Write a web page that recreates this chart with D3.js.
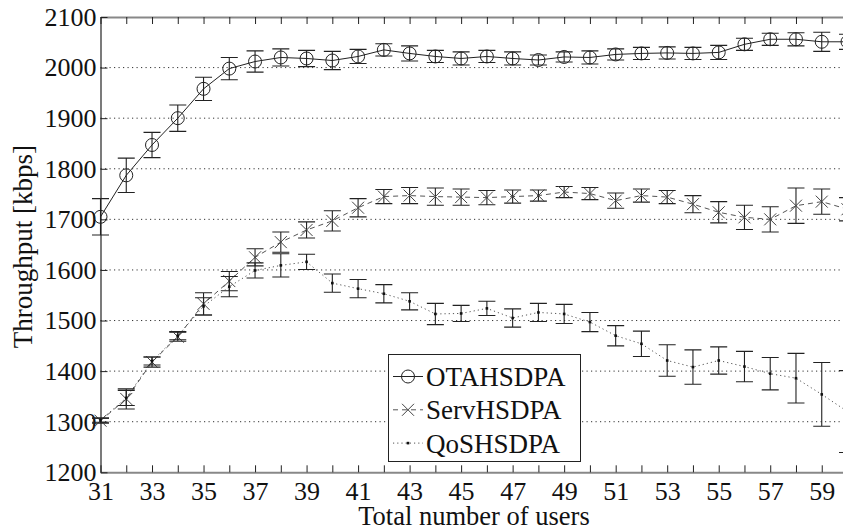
<!DOCTYPE html>
<html>
<head>
<meta charset="utf-8">
<script src="https://cdn.jsdelivr.net/npm/d3@7"></script>
<style>
    body { margin: 0; background: #fff; }
    svg { display: block; font-family: "Liberation Serif", "Times New Roman", serif; }
</style>
</head>
<body>
<svg id="chart"></svg>
<script>

// x values: total number of users
const users = [31, 32, 33, 34, 35, 36, 37, 38, 39, 40, 41, 42, 43, 44, 45,
               46, 47, 48, 49, 50, 51, 52, 53, 54, 55, 56, 57, 58, 59, 60];

// OTAHSDPA throughput (kbps) and error half-widths
const otaMean = [1705, 1787, 1847, 1900, 1958, 1998, 2012, 2020, 2018, 2014, 2022, 2035, 2028, 2022, 2018,
                 2022, 2018, 2015, 2021, 2020, 2026, 2028, 2029, 2028, 2030, 2046, 2056, 2056, 2051, 2051];
const otaErr  = [36, 34, 25, 26, 23, 22, 21, 17, 16, 18, 14, 12, 15, 12, 13,
                 12, 13, 10, 10, 13, 11, 12, 12, 12, 14, 12, 12, 13, 19, 15];

// ServHSDPA
const servMean = [1302, 1345, 1418, 1468, 1533, 1578, 1625, 1655, 1679, 1697, 1723, 1745, 1747, 1745, 1744,
                  1743, 1745, 1747, 1754, 1751, 1737, 1747, 1744, 1730, 1714, 1704, 1700, 1727, 1735, 1720];
const servErr  = [5, 20, 10, 9, 22, 19, 17, 20, 16, 20, 18, 14, 16, 17, 16,
                  14, 13, 11, 11, 12, 15, 13, 13, 17, 21, 24, 25, 35, 25, 23];

// QoSHSDPA
const qosMean = [1303, 1347, 1420, 1470, 1528, 1567, 1599, 1609, 1616, 1574, 1563, 1553, 1538, 1513, 1514,
                 1524, 1505, 1516, 1513, 1497, 1470, 1454, 1421, 1408, 1421, 1409, 1395, 1386, 1354, 1320];
const qosErr  = [4, 15, 8, 8, 17, 20, 15, 23, 15, 18, 18, 18, 17, 21, 16,
                 14, 18, 18, 19, 19, 20, 25, 31, 34, 27, 30, 32, 49, 63, 81];

const yTicks = [1200, 1300, 1400, 1500, 1600, 1700, 1800, 1900, 2000, 2100];
const xTickLabels = [31, 33, 35, 37, 39, 41, 43, 45, 47, 49, 51, 53, 55, 57, 59];
const seriesNames = ['OTAHSDPA', 'ServHSDPA', 'QoSHSDPA'];

class ErrorBarChart {
    constructor(config_, data_) {
        this.config = {
            svgElement: config_.svgElement,
            width: config_.width,
            height: config_.height,
            margin: config_.margin
        };
        this.data = data_;
        this.initVis();
    }

    initVis() {
        const vis = this;

        vis.width = vis.config.width - vis.config.margin.left - vis.config.margin.right;
        vis.height = vis.config.height - vis.config.margin.top - vis.config.margin.bottom;

        vis.xScale = d3.scaleLinear()
            .domain([users[0], users[users.length - 1]])
            .range([0, vis.width]);

        vis.yScale = d3.scaleLinear()
            .domain([yTicks[0], yTicks[yTicks.length - 1]])
            .range([vis.height, 0]);

        // matlab style: ticks point inwards
        vis.xAxis = d3.axisBottom(vis.xScale)
            .tickValues(users)
            .tickSizeInner(-7)
            .tickSizeOuter(0)
            .tickPadding(9.5)
            .tickFormat(d => xTickLabels.includes(d) ? d : '');

        vis.xAxisTop = d3.axisTop(vis.xScale)
            .tickValues(users)
            .tickSizeInner(-7)
            .tickSizeOuter(0)
            .tickFormat('');

        vis.yAxis = d3.axisLeft(vis.yScale)
            .tickValues(yTicks)
            .tickSizeInner(-7)
            .tickSizeOuter(0)
            .tickPadding(4)
            .tickFormat(d3.format('d'));

        vis.svg = d3.select(vis.config.svgElement)
            .attr('width', vis.config.width)
            .attr('height', vis.config.height);

        vis.chart = vis.svg.append('g')
            .attr('transform', `translate(${vis.config.margin.left},${vis.config.margin.top})`);

        vis.gridG = vis.chart.append('g').attr('class', 'grid');

        vis.xAxisG = vis.chart.append('g')
            .attr('class', 'axis x-axis')
            .attr('transform', `translate(0,${vis.height})`);

        vis.xAxisTopG = vis.chart.append('g')
            .attr('class', 'axis x-axis-top');

        vis.yAxisG = vis.chart.append('g')
            .attr('class', 'axis y-axis');

        vis.svg.append('text')
            .attr('x', vis.config.margin.left + vis.width / 2)
            .attr('y', 525)
            .attr('text-anchor', 'middle')
            .attr('font-size', 26.5)
            .attr('fill', '#111')
            .text('Total number of users');

        vis.svg.append('text')
            .attr('transform', `translate(32,${vis.config.margin.top + vis.height / 2 + 2}) rotate(-90)`)
            .attr('text-anchor', 'middle')
            .attr('font-size', 27)
            .attr('fill', '#111')
            .text('Throughput [kbps]');

        vis.updateVis();
    }

    updateVis() {
        const vis = this;

        vis.series = vis.data.map(s => ({
            name: s.name,
            style: s.style,
            points: users.map((u, i) => ({ x: u, y: s.mean[i], e: s.err[i] }))
        }));

        vis.line = d3.line()
            .x(d => vis.xScale(d.x))
            .y(d => vis.yScale(d.y));

        vis.renderVis();
    }

    drawMarker(g, type, x, y) {
        if (type === 'circle') {
            g.append('circle')
                .attr('cx', x).attr('cy', y).attr('r', 6.5)
                .attr('fill', 'none').attr('stroke', '#222').attr('stroke-width', 1);
        } else if (type === 'x') {
            g.append('path')
                .attr('d', `M${x - 6},${y - 6}L${x + 6},${y + 6}M${x - 6},${y + 6}L${x + 6},${y - 6}`)
                .attr('stroke', '#444').attr('stroke-width', 1);
        } else {
            g.append('rect')
                .attr('x', x - 1.3).attr('y', y - 1.3)
                .attr('width', 2.6).attr('height', 2.6)
                .attr('fill', '#111');
        }
    }

    renderVis() {
        const vis = this;

        // dotted horizontal grid
        vis.gridG.selectAll('line')
            .data(yTicks.slice(1, -1))
            .join('line')
            .attr('x1', 0)
            .attr('x2', vis.width)
            .attr('y1', d => vis.yScale(d))
            .attr('y2', d => vis.yScale(d))
            .attr('stroke', '#333')
            .attr('stroke-width', 1)
            .attr('stroke-dasharray', '1.2,3.3');

        vis.xAxisG.call(vis.xAxis)
            .call(g => g.select('.domain').attr('stroke', '#888').attr('stroke-width', 2));
        vis.xAxisTopG.call(vis.xAxisTop)
            .call(g => g.select('.domain').attr('stroke', '#888').attr('stroke-width', 2));
        vis.yAxisG.call(vis.yAxis)
            .call(g => g.select('.domain').attr('stroke', '#222').attr('stroke-width', 1.2));

        vis.chart.selectAll('.axis .tick line').attr('stroke', '#222').attr('stroke-width', 1);
        vis.chart.selectAll('.axis text')
            .attr('font-size', 26)
            .attr('font-family', '"Liberation Serif", "Times New Roman", serif')
            .attr('fill', '#111');

        const seriesG = vis.chart.selectAll('.series')
            .data(vis.series)
            .join('g')
            .attr('class', d => `series s-${d.name}`);

        seriesG.append('path')
            .attr('d', d => vis.line(d.points))
            .attr('fill', 'none')
            .attr('stroke', d => d.style.color)
            .attr('stroke-width', 1)
            .attr('stroke-dasharray', d => d.style.dash);

        // error bars
        seriesG.each(function (s) {
            const g = d3.select(this);
            s.points.forEach(p => {
                const x = vis.xScale(p.x);
                const y0 = vis.yScale(p.y - p.e);
                const y1 = vis.yScale(p.y + p.e);
                g.append('path')
                    .attr('d', `M${x},${y0}L${x},${y1}M${x - 8.5},${y0}L${x + 8.5},${y0}M${x - 8.5},${y1}L${x + 8.5},${y1}`)
                    .attr('fill', 'none')
                    .attr('stroke', '#222')
                    .attr('stroke-width', 1.1);
                vis.drawMarker(g, s.style.marker, x, vis.yScale(p.y));
            });
        });

        // legend
        const lg = vis.svg.append('g').attr('class', 'legend');
        lg.append('rect')
            .attr('x', 388.5).attr('y', 354.5)
            .attr('width', 192).attr('height', 107)
            .attr('fill', '#fff').attr('stroke', '#222').attr('stroke-width', 1);

        vis.series.forEach((s, i) => {
            const cy = 376.5 + i * 33.3;
            lg.append('line')
                .attr('x1', 393).attr('x2', 423)
                .attr('y1', cy).attr('y2', cy)
                .attr('stroke', s.style.color)
                .attr('stroke-width', 1)
                .attr('stroke-dasharray', s.style.dash);
            vis.drawMarker(lg, s.style.marker, 408, cy);
            lg.append('text')
                .attr('x', 426)
                .attr('y', cy + 9.5)
                .attr('font-size', 27)
                .attr('fill', '#111')
                .text(s.name);
        });
    }
}

const chart = new ErrorBarChart({
    svgElement: '#chart',
    width: 843,
    height: 531,
    margin: { top: 17, right: -4.5, bottom: 58.7, left: 100.5 }
}, [
    { name: seriesNames[0], mean: otaMean, err: otaErr, style: { marker: 'circle', color: '#222', dash: null } },
    { name: seriesNames[1], mean: servMean, err: servErr, style: { marker: 'x', color: '#555', dash: '5,4' } },
    { name: seriesNames[2], mean: qosMean, err: qosErr, style: { marker: 'dot', color: '#555', dash: '1.2,3' } }
]);

</script>
</body>
</html>
